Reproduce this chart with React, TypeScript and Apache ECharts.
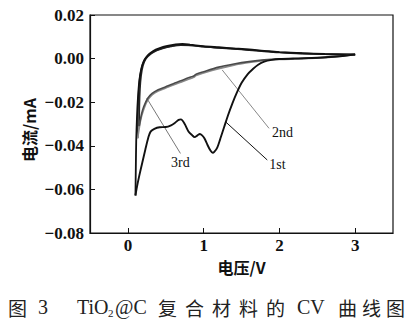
import React, { useEffect, useRef } from "react";
import * as echarts from "echarts";

const xTicks = [0, 1, 2, 3];
const yMin = -0.08;
const yMax = 0.02;
const yStep = 0.02;
const cycleNames = ["1st", "2nd", "3rd"];

const cycle1Cathodic: [number, number][] = [
  [3.0, 0.0019], [2.8, 0.0011], [2.5, 0.0004], [2.2, 0.0001], [2.0, -0.0002], [1.9, -0.0006],
  [1.8, -0.0014], [1.72, -0.0028], [1.65, -0.0048], [1.58, -0.0072], [1.5, -0.0112],
  [1.44, -0.0155], [1.38, -0.0205], [1.32, -0.0262], [1.27, -0.0315], [1.22, -0.0368],
  [1.18, -0.0408], [1.14, -0.0428], [1.12, -0.0432], [1.09, -0.0422], [1.05, -0.0395],
  [1.01, -0.0365], [0.98, -0.0352], [0.95, -0.0346], [0.92, -0.0352], [0.88, -0.036],
  [0.85, -0.0352], [0.8, -0.0334], [0.75, -0.03], [0.7, -0.0279], [0.67, -0.0281],
  [0.62, -0.0295], [0.57, -0.0306], [0.5, -0.0314], [0.42, -0.0315], [0.35, -0.0322],
  [0.3, -0.0335], [0.27, -0.0362], [0.23, -0.0418], [0.19, -0.0478], [0.15, -0.0538],
  [0.12, -0.0588], [0.1, -0.0628],
];

const cycle1Anodic: [number, number][] = [
  [0.1, -0.0628], [0.105, -0.05], [0.11, -0.038], [0.12, -0.027], [0.133, -0.018],
  [0.15, -0.0105], [0.175, -0.005], [0.21, -0.0012], [0.26, 0.0014], [0.33, 0.0034],
  [0.42, 0.0048], [0.52, 0.0058], [0.63, 0.0065], [0.72, 0.0067], [0.82, 0.0064],
  [1.0, 0.0057], [1.2, 0.0052], [1.4, 0.0047], [1.6, 0.0042], [1.8, 0.0035],
  [2.0, 0.003], [2.3, 0.0025], [2.6, 0.0021], [2.9, 0.0019], [3.0, 0.0019],
];

const cycle2Cathodic: [number, number][] = [
  [3.0, 0.0019], [2.85, 0.0012], [2.6, 0.0004], [2.3, -0.0001], [2.0, -0.0004], [1.8, -0.0008],
  [1.6, -0.0018], [1.4, -0.003], [1.2, -0.0046], [1.0, -0.0066], [0.9, -0.0078],
  [0.87, -0.0086], [0.84, -0.009], [0.8, -0.0095], [0.7, -0.0108], [0.6, -0.0121],
  [0.5, -0.0135], [0.4, -0.0149], [0.32, -0.0166], [0.26, -0.0192], [0.21, -0.0232],
  [0.17, -0.028], [0.145, -0.033], [0.13, -0.0365],
];

const cycle2Anodic: [number, number][] = [
  [0.13, -0.0365], [0.133, -0.026], [0.14, -0.017], [0.155, -0.0095], [0.18, -0.0045],
  [0.215, -0.0008], [0.27, 0.0016], [0.35, 0.0034], [0.45, 0.0047], [0.55, 0.0056],
  [0.68, 0.0063], [0.8, 0.0061], [1.0, 0.0055], [1.2, 0.005], [1.4, 0.0045],
  [1.6, 0.004], [1.8, 0.0034], [2.0, 0.0029], [2.3, 0.0024], [2.6, 0.0021], [3.0, 0.0019],
];

const cycle3Cathodic: [number, number][] = [
  [3.0, 0.0019], [2.85, 0.0013], [2.6, 0.0005], [2.3, 0.0], [2.0, -0.0002], [1.8, -0.0006],
  [1.6, -0.0014], [1.4, -0.0025], [1.2, -0.0039], [1.0, -0.006], [0.9, -0.0072],
  [0.87, -0.008], [0.84, -0.0083], [0.8, -0.0088], [0.7, -0.0102], [0.6, -0.0115],
  [0.5, -0.0129], [0.4, -0.0143], [0.32, -0.016], [0.26, -0.0183], [0.21, -0.022],
  [0.18, -0.0255], [0.16, -0.029], [0.15, -0.031],
];

const cycle3Anodic: [number, number][] = [
  [0.15, -0.031], [0.152, -0.022], [0.16, -0.014], [0.175, -0.0078], [0.2, -0.0032],
  [0.24, 0.0], [0.3, 0.0021], [0.38, 0.0037], [0.47, 0.0048], [0.57, 0.0056],
  [0.7, 0.0062], [0.85, 0.006], [1.0, 0.0054], [1.2, 0.0049], [1.4, 0.0044],
  [1.6, 0.0039], [1.8, 0.0033], [2.0, 0.0028], [2.3, 0.0023], [2.6, 0.002], [3.0, 0.0018],
];

const leader1st: [number, number][] = [[1.29, -0.029], [1.84, -0.0465]];
const leader2nd: [number, number][] = [[1.245, -0.0052], [1.864, -0.032]];
const leader3rd: [number, number][] = [[0.25, -0.0182], [0.694, -0.0435]];

const serif = "Liberation Serif, Times New Roman, serif";
const cjk = "Noto Sans CJK SC, sans-serif";

export default function App() {
  const ref = useRef<HTMLDivElement>(null);

  useEffect(() => {
    if (!ref.current) return;
    const chart = echarts.init(ref.current, undefined, { renderer: "svg" });

    const line = (data: [number, number][], color: string, width: number, z = 2) => ({
      type: "line",
      data,
      showSymbol: false,
      symbol: "none",
      smooth: 0.3,
      lineStyle: { color, width },
      z,
      silent: true,
    });

    const leader = (data: [number, number][], color: string) => ({
      type: "line",
      data,
      symbol: "none",
      lineStyle: { color, width: 1 },
      z: 1,
      silent: true,
    });

    const captionStyle = (text: string, x: number, font: string, size: number, y = 307) => ({
      type: "text",
      x,
      y,
      style: { text, fontFamily: font, fontSize: size, fill: "#222", verticalAlign: "middle", align: "left" },
    });

    const baseGraphic: any[] = [
      {
        type: "text",
        x: 29,
        y: 130,
        rotation: Math.PI / 2,
        style: {
          text: "电流/mA",
          fontFamily: cjk,
          fontWeight: "bold",
          fontSize: 16,
          fill: "#111",
          align: "center",
          verticalAlign: "middle",
        },
      },
      captionStyle("图", 8, cjk, 19),
      captionStyle("3", 38, serif, 20),
      captionStyle("TiO", 77, serif, 20),
      captionStyle("2", 108, serif, 11, 313),
      captionStyle("@C", 115, serif, 20),
      captionStyle("复", 158, cjk, 19),
      captionStyle("合", 185, cjk, 19),
      captionStyle("材", 212, cjk, 19),
      captionStyle("料", 239, cjk, 19),
      captionStyle("的", 266, cjk, 19),
      captionStyle("CV", 297, serif, 20),
      captionStyle("曲", 338, cjk, 19),
      captionStyle("线", 362, cjk, 19),
      captionStyle("图", 386, cjk, 19),
    ];

    chart.setOption({
      animation: false,
      backgroundColor: "#fff",
      grid: {
        left: 90,
        right: 20,
        top: 15,
        bottom: 95,
        show: true,
        borderColor: "#111",
        borderWidth: 1.2,
        containLabel: false,
      },
      xAxis: {
        type: "value",
        min: -0.5,
        max: 3.5,
        name: "电压/V",
        nameLocation: "middle",
        nameGap: 24,
        nameTextStyle: { fontFamily: cjk, fontWeight: "bold", fontSize: 16, color: "#111" },
        axisLine: { show: true, onZero: false, lineStyle: { color: "#111", width: 1.2 } },
        axisTick: { show: true, inside: true, length: 5, customValues: xTicks, lineStyle: { color: "#111" } },
        axisLabel: {
          customValues: xTicks,
          fontFamily: serif,
          fontWeight: "bold",
          fontSize: 17,
          color: "#111",
          margin: 4,
        },
        splitLine: { show: false },
      },
      yAxis: {
        type: "value",
        min: yMin,
        max: yMax,
        interval: yStep,
        axisLine: { show: true, onZero: false, lineStyle: { color: "#111", width: 1.2 } },
        axisTick: { show: true, inside: true, length: 5, lineStyle: { color: "#111" } },
        axisLabel: {
          fontFamily: serif,
          fontWeight: "bold",
          fontSize: 17,
          color: "#111",
          margin: 6,
          formatter: (v: number) =>
            Math.abs(v) < 1e-9 ? "0.00" : (v < 0 ? "\u2212" : "") + Math.abs(v).toFixed(2),
        },
        splitLine: { show: false },
      },
      series: [
        leader(leader1st, "#111"),
        leader(leader2nd, "#888"),
        leader(leader3rd, "#777"),
        line(cycle2Anodic, "#3a3a3a", 1.6),
        line(cycle3Anodic, "#222", 1.6),
        line(cycle1Anodic, "#111", 1.8),
        line(cycle2Cathodic, "#8a8a8a", 1.6, 3),
        line(cycle3Cathodic, "#4a4a4a", 1.6, 3),
        line(cycle1Cathodic, "#111", 1.9, 4),
      ],
      graphic: baseGraphic,
    });

    const p1 = chart.convertToPixel({ gridIndex: 0 }, leader1st[1]) as number[];
    const p2 = chart.convertToPixel({ gridIndex: 0 }, leader2nd[1]) as number[];
    const p3 = chart.convertToPixel({ gridIndex: 0 }, leader3rd[1]) as number[];
    const lbl = (text: string, x: number, y: number, align: string, vAlign: string) => ({
      type: "text",
      x,
      y,
      style: { text, fontFamily: serif, fontSize: 14, fill: "#111", align, verticalAlign: vAlign },
    });
    chart.setOption(
      {
        graphic: [
          ...baseGraphic,
          lbl(cycleNames[0], p1[0] + 2, p1[1] + 5, "left", "middle"),
          lbl(cycleNames[1], p2[0] + 3, p2[1] + 4, "left", "middle"),
          lbl(cycleNames[2], p3[0], p3[1] + 2, "center", "top"),
        ],
      },
      { replaceMerge: ["graphic"] }
    );

    return () => chart.dispose();
  }, []);

  return <div ref={ref} style={{ width: 413, height: 328, position: "absolute", left: 0, top: 0 }} />;
}
